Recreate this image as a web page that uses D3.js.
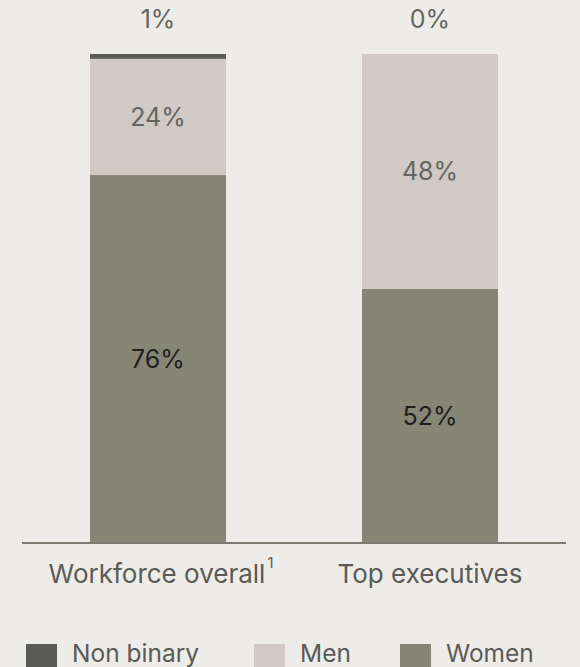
<!DOCTYPE html>
<html><head><meta charset="utf-8">
<script src="https://cdn.jsdelivr.net/npm/d3@7/dist/d3.min.js"></script>
<style>
html,body{margin:0;padding:0;background:#eeece8;}
svg{display:block;}
text{font-family:Inter, Roboto, "Noto Sans", sans-serif;}
</style></head>
<body><svg id="c" width="580" height="667"></svg>
<script>
const categories = ["Workforce overall", "Top executives"];
const footnotes = ["1", ""];
const seriesKeys = ["Women", "Men", "Non binary"];
const women = [76, 52];
const men = [24, 48];
const nonBinary = [1, 0];
const legendOrder = ["Non binary", "Men", "Women"];

const colors = {"Non binary":"#5b5b55", "Men":"#d1c9c3", "Women":"#868677"};
const labelColors = {"Non binary":"#666660", "Men":"#66645f", "Women":"#1e1e1c"};
const FS = 26;

const rows = categories.map((c,i)=>({cat:c, "Women":women[i], "Men":men[i], "Non binary":nonBinary[i]}));
const stacked = d3.stack().keys(seriesKeys).offset(d3.stackOffsetExpand)(rows);

const svg = d3.select("#c");
const x = d3.scaleBand().domain(categories).range([22,566]).paddingInner(0.5).paddingOuter(0.25);
const y = d3.scaleLinear().domain([0,1]).range([543,54]);

const g = svg.append("g");
stacked.forEach(s=>{
  g.selectAll(null).data(s).enter().append("rect")
    .attr("x", d=>x(d.data.cat))
    .attr("width", x.bandwidth())
    .attr("y", d=>y(d[1]))
    .attr("height", d=>Math.max(0, y(d[0])-y(d[1])))
    .attr("fill", colors[s.key]);
});

// segment labels
stacked.forEach(s=>{
  if (s.key === "Non binary") return;
  g.selectAll(null).data(s).enter().append("text")
    .attr("x", d=>x(d.data.cat)+x.bandwidth()/2)
    .attr("y", d=>(y(d[0])+y(d[1]))/2)
    .attr("dy","0.36em")
    .attr("text-anchor","middle")
    .attr("font-size", 25)
    .attr("fill", labelColors[s.key])
    .text(d=>d.data[s.key]+"%");
});
// non-binary labels on top
const nb = stacked.find(s=>s.key==="Non binary");
g.selectAll(null).data(nb).enter().append("text")
  .attr("x", d=>x(d.data.cat)+x.bandwidth()/2)
  .attr("y", 28)
  .attr("text-anchor","middle")
  .attr("font-size", 25)
  .attr("fill", labelColors["Non binary"])
  .text(d=>d.data["Non binary"]+"%");

// axis
const ax = svg.append("g").attr("transform","translate(0,543)")
  .call(d3.axisBottom(x).tickSize(0).tickPadding(0).tickFormat(""));
ax.select(".domain").attr("stroke","#7b7b72").attr("stroke-width",2).attr("d","M22,0H566");
ax.selectAll(".tick text").remove();
ax.selectAll(".tick").each(function(d,i){
  const t = d3.select(this).append("text")
    .attr("class","lbl")
    .attr("y", 40)
    .attr("text-anchor","middle")
    .attr("font-size", FS)
    .attr("fill","#5a5a56");
  const main = t.append("tspan").text(d);
  if (footnotes[i]) {
    t.append("tspan").attr("font-size",15).attr("dy",-15).attr("dx",2).text(footnotes[i]);
    const mw = main.node().getComputedTextLength();
    const fw = t.node().getComputedTextLength();
    t.attr("x", (fw - mw)/2);
  }
});

// legend
const legX = [26, 254, 400];
const leg = svg.append("g");
legendOrder.forEach((k,i)=>{
  leg.append("rect").attr("x",legX[i]).attr("y",644).attr("width",31).attr("height",31).attr("fill",colors[k]);
  leg.append("text").attr("x",legX[i]+46).attr("y",662).attr("font-size",24.5).attr("fill","#5a5a56").text(k);
});
</script></body></html>
